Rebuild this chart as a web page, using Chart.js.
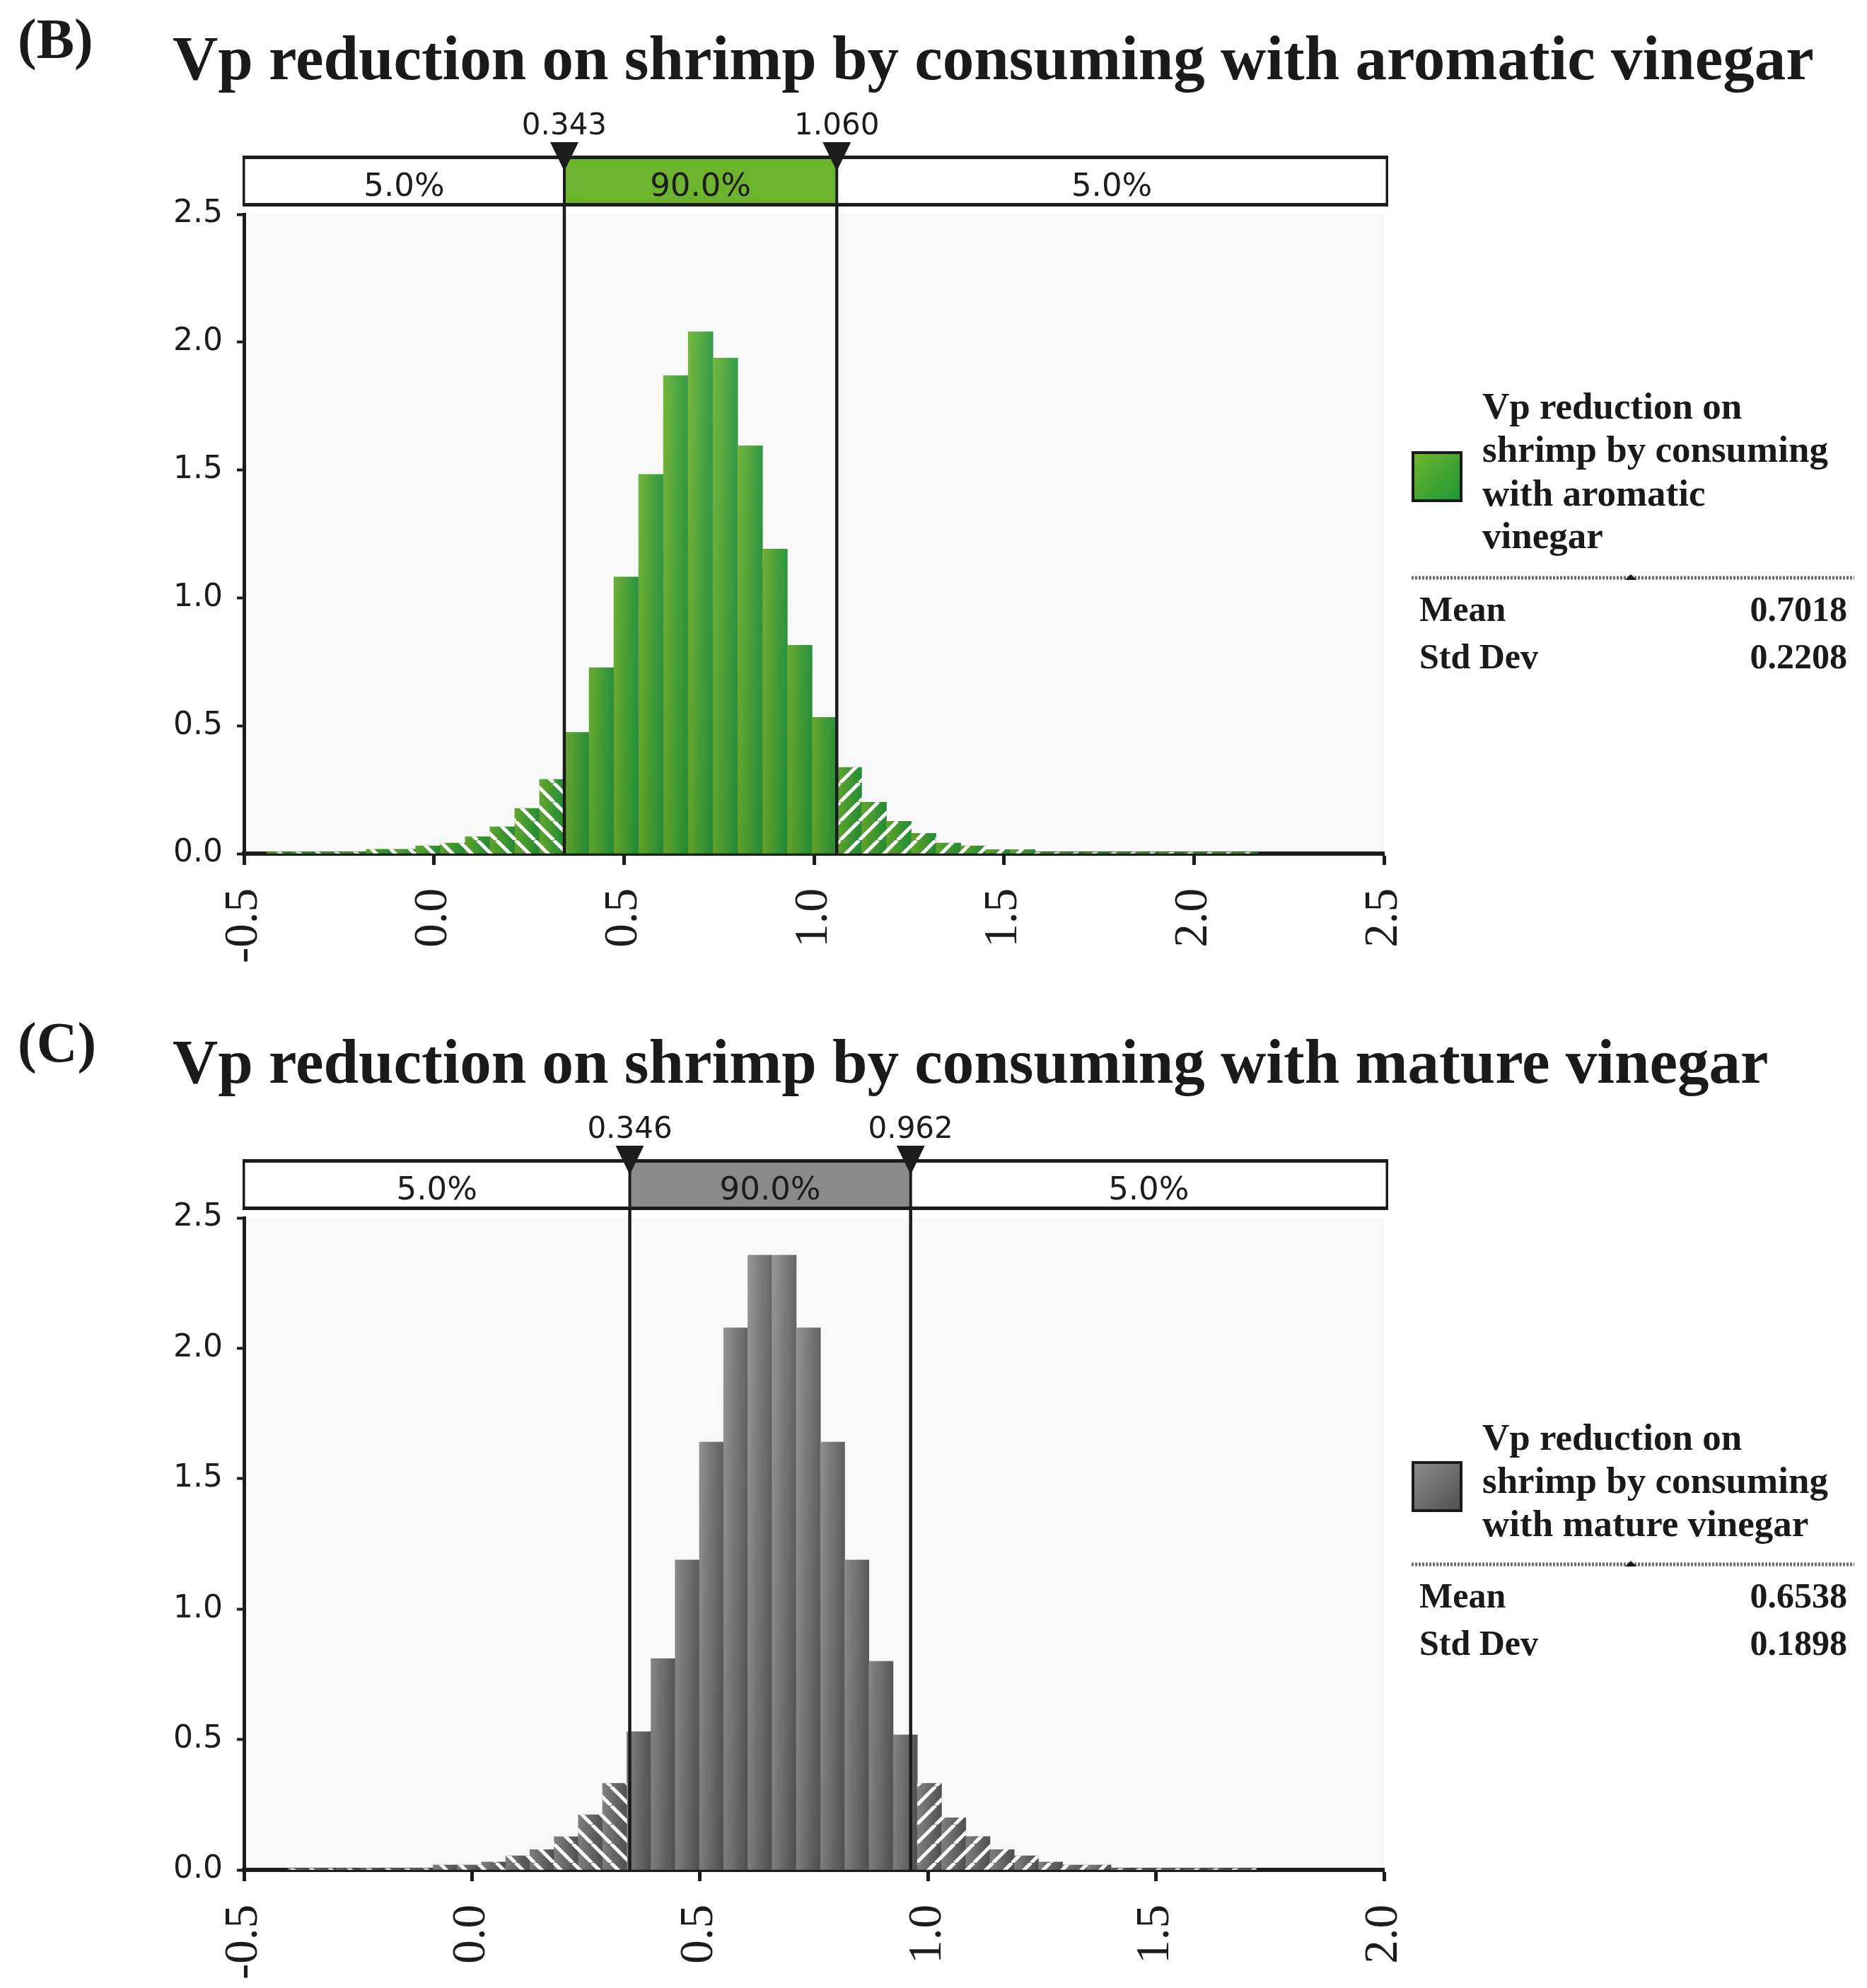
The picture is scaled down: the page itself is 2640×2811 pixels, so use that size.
<!DOCTYPE html>
<html><head><meta charset="utf-8">
<script src="https://cdn.jsdelivr.net/npm/chart.js@4.4.1/dist/chart.umd.min.js"></script>
<style>
html,body{margin:0;padding:0;background:#fff;}
body{width:2640px;height:2811px;position:relative;overflow:hidden;}
canvas{position:absolute;left:0;}
#ov{position:absolute;left:0;top:0;}
</style></head><body>
<canvas id="cB" width="2640" height="1419" style="top:0px;width:2640px;height:1419px"></canvas>
<canvas id="cC" width="2640" height="1392" style="top:1419px;width:2640px;height:1392px"></canvas>
<svg id="ov" width="2640" height="2811" xmlns="http://www.w3.org/2000/svg"></svg>
<script>
// ---------- DATA ----------
const panelLetters = ['(B)', '(C)'];
const titles = [
  'Vp reduction on shrimp by consuming with aromatic vinegar',
  'Vp reduction on shrimp by consuming with mature vinegar'
];
const legendLinesB = ['Vp reduction on', 'shrimp by consuming', 'with aromatic', 'vinegar'];
const legendLinesC = ['Vp reduction on', 'shrimp by consuming', 'with mature vinegar'];
const statNames = ['Mean', 'Std Dev'];
const statsB = ['0.7018', '0.2208'];
const statsC = ['0.6538', '0.1898'];
const bandLabels = ['5.0%', '90.0%', '5.0%'];

const cutoffsB = [0.343, 1.060];
const cutoffLabelsB = ['0.343', '1.060'];
const binWidthB = 0.0652;
const binCentersB = [-0.4068,-0.3416,-0.2764,-0.2112,-0.1460,-0.0808,-0.0156,0.0496,0.1148,0.1800,0.2452,0.3104,
  0.3756,0.4408,0.5060,0.5712,0.6364,0.7016,0.7668,0.8320,0.8972,0.9624,1.0276,
  1.0928,1.1580,1.2232,1.2884,1.3536,1.4188,1.4840,1.5492,1.6144,1.6796,1.7448,1.8100,1.8752,1.9404,2.0056,2.0708,2.1360];
const densityB = [0.006,0.006,0.006,0.006,0.017,0.017,0.030,0.041,0.066,0.105,0.177,0.290,
  0.474,0.727,1.082,1.483,1.869,2.041,1.938,1.595,1.191,0.815,0.533,
  0.337,0.201,0.126,0.079,0.041,0.030,0.016,0.016,0.005,0.005,0.005,0.005,0.005,0.005,0.005,0.005,0.005];

const cutoffsC = [0.346, 0.962];
const cutoffLabelsC = ['0.346', '0.962'];
const binWidthC = 0.0531;
const binCentersC = [-0.3774,-0.3243,-0.2712,-0.2181,-0.1650,-0.1119,-0.0588,-0.0057,0.0474,0.1005,0.1536,0.2067,0.2598,0.3129,
  0.3660,0.4191,0.4722,0.5253,0.5784,0.6315,0.6846,0.7377,0.7908,0.8439,0.8970,0.9501,
  1.0032,1.0563,1.1094,1.1625,1.2156,1.2687,1.3218,1.3749,1.4280,1.4811,1.5342,1.5873,1.6404,1.6935];
const densityC = [0.005,0.005,0.005,0.005,0.005,0.005,0.019,0.019,0.030,0.054,0.078,0.127,0.211,0.332,
  0.530,0.810,1.188,1.640,2.078,2.357,2.357,2.078,1.640,1.188,0.800,0.518,
  0.332,0.200,0.128,0.078,0.054,0.030,0.019,0.019,0.005,0.005,0.005,0.005,0.005,0.005];

const yTicksMax = 2.5;
const xRangeB = [-0.5, 2.5];
const xRangeC = [-0.5, 2.0];

// ---------- HELPERS ----------
function stripePattern(dir){
  const s = 27, cv = document.createElement('canvas');
  cv.width = s; cv.height = s;
  const g = cv.getContext('2d');
  g.strokeStyle = '#ffffff'; g.lineWidth = 5;
  for (let k = -1; k <= 1; k++) {
    g.beginPath();
    if (dir === 'back') { g.moveTo(k*s, 0); g.lineTo(k*s + s, s); }
    else { g.moveTo(k*s, s); g.lineTo(k*s + s, 0); }
    g.stroke();
  }
  return g.createPattern(cv, 'repeat');
}
const patBack = stripePattern('back');
const patFwd = stripePattern('fwd');

function makePanel(cfg){
  const canvas = document.getElementById(cfg.id);
  const H = canvas.height;
  const main = cfg.centers.map((c,i)=>({x:c, y:cfg.dens[i]}));
  const stripes = cfg.centers.map((c,i)=>({x:c, y:(c < cfg.cut[0] || c > cfg.cut[1]) ? cfg.dens[i] : null}));
  const gradFill = (ctx)=>{
    const ch = ctx.chart, xs = ch.scales.x;
    if (!ch.chartArea || !xs || !ctx.raw) return cfg.dark;
    const x0 = xs.getPixelForValue(ctx.raw.x - cfg.width/2);
    const x1 = xs.getPixelForValue(ctx.raw.x + cfg.width/2);
    if (!isFinite(x0) || !isFinite(x1)) return cfg.dark;
    const g = ch.ctx.createLinearGradient(x0, 0, x1, 0);
    g.addColorStop(0, cfg.light); g.addColorStop(1, cfg.dark);
    return g;
  };
  const shadeFill = (ctx)=>{
    const ch = ctx.chart, a = ch.chartArea;
    if (!a) return 'rgba(0,0,0,0)';
    const g = ch.ctx.createLinearGradient(0, a.top, 0, a.bottom);
    g.addColorStop(0, 'rgba(255,255,255,0.10)');
    g.addColorStop(1, 'rgba(0,0,0,0.10)');
    return g;
  };
  const stripeFill = (ctx)=> (ctx.raw && ctx.raw.x < cfg.cut[0]) ? patBack : patFwd;

  const deco = {
    id: 'deco',
    beforeDraw(ch){
      const a = ch.chartArea, c = ch.ctx;
      c.save(); c.fillStyle = '#f8f8f8';
      c.fillRect(a.left, a.top, a.right - a.left, a.bottom - a.top);
      c.restore();
    },
    afterDatasetsDraw(ch){
      const a = ch.chartArea, c = ch.ctx, xs = ch.scales.x;
      c.save(); c.strokeStyle = '#1c1c1c'; c.lineWidth = 4.5;
      cfg.cut.forEach(v=>{
        const x = xs.getPixelForValue(v);
        c.beginPath(); c.moveTo(x, cfg.boxBottom); c.lineTo(x, a.bottom); c.stroke();
      });
      c.restore();
    },
    afterDraw(ch){
      const a = ch.chartArea, c = ch.ctx, xs = ch.scales.x;
      const t = cfg.boxTop, b = cfg.boxBottom, L = a.left, R = a.right + 4;
      const xl = xs.getPixelForValue(cfg.cut[0]), xr = xs.getPixelForValue(cfg.cut[1]);
      c.save();
      c.fillStyle = '#ffffff'; c.fillRect(L, t, R - L, b - t);
      c.fillStyle = cfg.band; c.fillRect(xl, t, xr - xl, b - t);
      c.fillStyle = '#1c1c1c';
      c.fillRect(L - 2, t - 2, R - L + 4, 5);
      c.fillRect(L - 2, b - 3, R - L + 4, 5);
      c.fillRect(L - 2, t - 2, 3.5, b - t + 4);
      c.fillRect(R - 1.5, t - 2, 3.5, b - t + 4);
      c.strokeStyle = '#1c1c1c'; c.lineWidth = 4;
      [xl, xr].forEach(x=>{ c.beginPath(); c.moveTo(x, t); c.lineTo(x, b); c.stroke(); });
      c.font = '45px "DejaVu Sans", Verdana, sans-serif';
      c.textAlign = 'center'; c.textBaseline = 'alphabetic';
      const mids = [(L + xl)/2, (xl + xr)/2, (xr + R)/2];
      bandLabels.forEach((s,i)=> c.fillText(s, mids[i], 277));
      c.font = '42px "DejaVu Sans", Verdana, sans-serif';
      [xl, xr].forEach((x,i)=>{
        c.fillText(cfg.cutLabels[i], x, 190);
        c.beginPath(); c.moveTo(x - 20, 201); c.lineTo(x + 20, 201); c.lineTo(x, 242); c.closePath(); c.fill();
      });
      c.restore();
    }
  };

  return new Chart(canvas, {
    type: 'bar',
    data: { datasets: [
      { data: main, backgroundColor: gradFill, borderWidth: 0, grouped: false, barPercentage: 1, categoryPercentage: 1, order: 3 },
      { data: main, backgroundColor: shadeFill, borderWidth: 0, grouped: false, barPercentage: 1, categoryPercentage: 1, order: 2 },
      { data: stripes, backgroundColor: stripeFill, borderWidth: 0, grouped: false, barPercentage: 1, categoryPercentage: 1, order: 1 }
    ]},
    options: {
      responsive: false, animation: false, devicePixelRatio: 1,
      layout: { padding: { left: 0, top: 303, right: 2640 - 1957, bottom: 0 } },
      plugins: { legend: { display: false }, tooltip: { enabled: false }, title: { display: false } },
      scales: {
        x: {
          type: 'linear', min: cfg.xRange[0], max: cfg.xRange[1], offset: false,
          afterFit: s => { s.height = H - cfg.plotBottom; },
          border: { display: true, color: '#1c1c1c', width: 6 },
          grid: { display: true, offset: false, drawOnChartArea: false, drawTicks: true, tickLength: 16, tickWidth: 5, tickColor: '#1c1c1c' },
          ticks: { stepSize: 0.5, autoSkip: false, minRotation: 90, maxRotation: 90, padding: 33,
                   color: '#1c1c1c', font: { family: '"Liberation Serif", "Times New Roman", serif', size: 67 },
                   callback: v => Number(v).toFixed(1) }
        },
        y: {
          min: 0, max: yTicksMax,
          afterFit: s => { s.width = 345; },
          border: { display: true, color: '#1c1c1c', width: 5 },
          grid: { display: true, offset: false, drawOnChartArea: false, drawTicks: true, tickLength: 10, tickWidth: 4, tickColor: '#1c1c1c' },
          ticks: { stepSize: 0.5, padding: 20, color: '#1c1c1c',
                   font: { family: '"DejaVu Sans", Verdana, sans-serif', size: 44 },
                   callback: v => Number(v).toFixed(1) }
        }
      }
    },
    plugins: [deco]
  });
}

makePanel({ id: 'cB', centers: binCentersB, dens: densityB, width: binWidthB, cut: cutoffsB, cutLabels: cutoffLabelsB,
  xRange: xRangeB, light: '#6cb52f', dark: '#24993a', band: '#6cb42d', plotBottom: 1207, boxTop: 222, boxBottom: 290 });
makePanel({ id: 'cC', centers: binCentersC, dens: densityC, width: binWidthC, cut: cutoffsC, cutLabels: cutoffLabelsC,
  xRange: xRangeC, light: '#8c8c8c', dark: '#575757', band: '#8a8a8a', plotBottom: 1225, boxTop: 222, boxBottom: 290 });

// ---------- TEXT OVERLAY ----------
const NS = 'http://www.w3.org/2000/svg';
const ov = document.getElementById('ov');
function el(tag, attrs, text){
  const e = document.createElementNS(NS, tag);
  for (const k in attrs) e.setAttribute(k, attrs[k]);
  if (text !== undefined) e.textContent = text;
  ov.appendChild(e); return e;
}
const defs = el('defs', {});
function grad(id, c0, c1){
  const g = document.createElementNS(NS, 'linearGradient');
  g.setAttribute('id', id); g.setAttribute('x1','0'); g.setAttribute('y1','0'); g.setAttribute('x2','1'); g.setAttribute('y2','1');
  [[0,c0],[1,c1]].forEach(([o,c])=>{ const s=document.createElementNS(NS,'stop'); s.setAttribute('offset',o); s.setAttribute('stop-color',c); g.appendChild(s); });
  defs.appendChild(g);
}
grad('gGreen', '#6fb62d', '#1c9636');
grad('gGray', '#8e8e8e', '#4f4f4f');

const serif = '"Liberation Serif", "Times New Roman", serif';
function panelText(off, letter, title, lines, lineY, swatchY, swatchFill, sepY, statVals){
  el('text', {x: 25, y: 82 + off, 'font-family': serif, 'font-weight': 'bold', 'font-size': 80, fill: '#1a1a1a'}, letter);
  el('text', {x: 244, y: 112 + off, 'font-family': serif, 'font-weight': 'bold', 'font-size': 89, fill: '#1a1a1a'}, title);
  lines.forEach((s,i)=> el('text', {x: 2096, y: lineY[i], 'font-family': serif, 'font-weight': 'bold', 'font-size': 53, fill: '#1a1a1a'}, s));
  el('rect', {x: 1998, y: swatchY, width: 68, height: 68, fill: swatchFill, stroke: '#1a1a1a', 'stroke-width': 4});
  el('line', {x1: 1996, x2: 2622, y1: sepY, y2: sepY, stroke: '#6a6a6a', 'stroke-width': 5, 'stroke-dasharray': '3 2'});
  el('polygon', {points: `${2298},${sepY+3} ${2314},${sepY+3} ${2306},${sepY-5}`, fill: '#1a1a1a'});
  statNames.forEach((s,i)=>{
    const y = sepY + 61 + i*67;
    el('text', {x: 2007, y, 'font-family': serif, 'font-weight': 'bold', 'font-size': 50, fill: '#1a1a1a'}, s);
    el('text', {x: 2612, y, 'text-anchor': 'end', 'font-family': serif, 'font-weight': 'bold', 'font-size': 50, fill: '#1a1a1a'}, statVals[i]);
  });
}
panelText(0, panelLetters[0], titles[0], legendLinesB, [592, 653, 715, 775], 640, 'url(#gGreen)', 817, statsB);
panelText(1419, panelLetters[1], titles[1], legendLinesC, [2050, 2111, 2172], 2068, 'url(#gGray)', 2212, statsC);
</script>
</body></html>
